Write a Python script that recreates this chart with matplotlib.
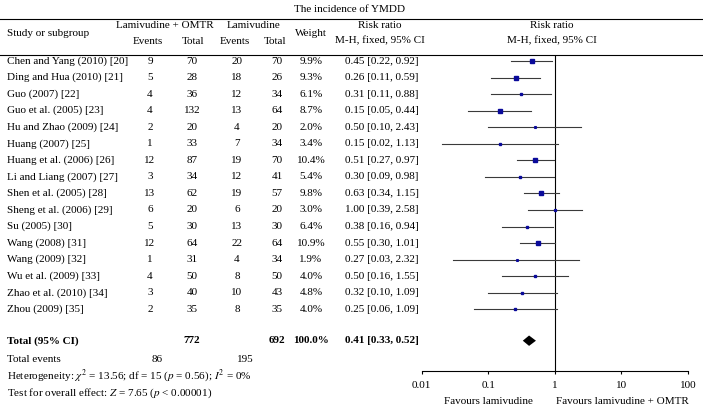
import numpy as np
import matplotlib
matplotlib.use('Agg')
import matplotlib.pyplot as plt

plt.rcParams['font.family'] = 'Liberation Serif'
plt.rcParams['mathtext.fontset'] = 'stix'

studies = ['Chen and Yang (2010) [20]', 'Ding and Hua (2010) [21]', 'Guo (2007) [22]',
           'Guo et al. (2005) [23]', 'Hu and Zhao (2009) [24]', 'Huang (2007) [25]',
           'Huang et al. (2006) [26]', 'Li and Liang (2007) [27]', 'Shen et al. (2005) [28]',
           'Sheng et al. (2006) [29]', 'Su (2005) [30]', 'Wang (2008) [31]',
           'Wang (2009) [32]', 'Wu et al. (2009) [33]', 'Zhao et al. (2010) [34]',
           'Zhou (2009) [35]']
omtr_events = [9, 5, 4, 4, 2, 1, 12, 3, 13, 6, 5, 12, 1, 4, 3, 2]
omtr_total = [70, 28, 36, 132, 20, 33, 87, 34, 62, 20, 30, 64, 31, 50, 40, 35]
lam_events = [20, 18, 12, 13, 4, 7, 19, 12, 19, 6, 13, 22, 4, 8, 10, 8]
lam_total = [70, 26, 34, 64, 20, 34, 70, 41, 57, 20, 30, 64, 34, 50, 43, 35]
weight = [9.9, 9.3, 6.1, 8.7, 2.0, 3.4, 10.4, 5.4, 9.8, 3.0, 6.4, 10.9, 1.9, 4.0, 4.8, 4.0]
rr = [0.45, 0.26, 0.31, 0.15, 0.50, 0.15, 0.51, 0.30, 0.63, 1.00, 0.38, 0.55, 0.27, 0.50, 0.32, 0.25]
rr_lo = [0.22, 0.11, 0.11, 0.05, 0.10, 0.02, 0.27, 0.09, 0.34, 0.39, 0.16, 0.30, 0.03, 0.16, 0.10, 0.06]
rr_hi = [0.92, 0.59, 0.88, 0.44, 2.43, 1.13, 0.97, 0.98, 1.15, 2.58, 0.94, 1.01, 2.32, 1.55, 1.09, 1.09]
total_omtr, total_lam = 772, 692
events_omtr, events_lam = 86, 195
pooled, pooled_lo, pooled_hi = 0.41, 0.33, 0.52

W, H = 703, 418
fig = plt.figure(figsize=(W / 100, H / 100), dpi=100)
ax = fig.add_axes([0, 0, 1, 1])
ax.set_xlim(0, W)
ax.set_ylim(H, 0)
ax.axis('off')

fs = 8
row_y = 61 + 16.55 * np.arange(len(studies))
total_y = 340.7

# header
ax.text(350, 10, 'The incidence of YMDD', ha='center', va='center', fontsize=fs)
ax.plot([0, W], [19, 19], color='black', lw=0.8)
ax.plot([0, W], [55, 55], color='black', lw=0.8)
ax.text(7, 33, 'Study or subgroup', ha='left', va='center', fontsize=fs)
ax.text(165, 26, 'Lamivudine + OMTR', ha='center', va='center', fontsize=fs)
ax.text(254, 26, 'Lamivudine', ha='center', va='center', fontsize=fs)
for x, s in [(148, 'Events'), (193, 'Total'), (235, 'Events'), (275, 'Total')]:
    ax.text(x, 41, s, ha='center', va='center', fontsize=fs)
ax.text(311, 33, 'Weight', ha='center', va='center', fontsize=fs)
ax.text(380, 26, 'Risk ratio', ha='center', va='center', fontsize=fs)
ax.text(380, 41, 'M-H, fixed, 95% CI', ha='center', va='center', fontsize=fs)
ax.text(552, 26, 'Risk ratio', ha='center', va='center', fontsize=fs)
ax.text(552, 41, 'M-H, fixed, 95% CI', ha='center', va='center', fontsize=fs)

# study rows
for i, y in enumerate(row_y):
    ax.text(7, y, studies[i], ha='left', va='center', fontsize=fs)
    ax.text(150, y, str(omtr_events[i]), ha='center', va='center', fontsize=fs)
    ax.text(192, y, str(omtr_total[i]), ha='center', va='center', fontsize=fs)
    ax.text(237, y, str(lam_events[i]), ha='center', va='center', fontsize=fs)
    ax.text(277, y, str(lam_total[i]), ha='center', va='center', fontsize=fs)
    ax.text(311, y, '{0:.1f}%'.format(weight[i]), ha='center', va='center', fontsize=fs)
    ax.text(345, y, '{0:.2f} [{1:.2f}, {2:.2f}]'.format(rr[i], rr_lo[i], rr_hi[i]),
            ha='left', va='center', fontsize=fs)

# totals
ax.text(7, total_y, 'Total (95% CI)', ha='left', va='center', fontsize=fs, fontweight='bold')
ax.text(192, total_y, str(total_omtr), ha='center', va='center', fontsize=fs, fontweight='bold')
ax.text(277, total_y, str(total_lam), ha='center', va='center', fontsize=fs, fontweight='bold')
ax.text(311, total_y, '{0:.1f}%'.format(sum(weight)), ha='center', va='center', fontsize=fs,
        fontweight='bold')
ax.text(345, total_y, '{0:.2f} [{1:.2f}, {2:.2f}]'.format(pooled, pooled_lo, pooled_hi),
        ha='left', va='center', fontsize=fs, fontweight='bold')
ax.text(7, 359, 'Total events', ha='left', va='center', fontsize=fs)
ax.text(157, 359, str(events_omtr), ha='center', va='center', fontsize=fs)
ax.text(245, 359, str(events_lam), ha='center', va='center', fontsize=fs)
ax.text(7, 375.7, r'Heterogeneity: $\chi^2$ = 13.56; df = 15 ($p$ = 0.56); $I^2$ = 0%',
        ha='left', va='center', fontsize=fs)
ax.text(7, 393, r'Test for overall effect: $Z$ = 7.65 ($p$ < 0.00001)',
        ha='left', va='center', fontsize=fs)

# forest panel
x0, x1, ytop, ybot = 421.7, 688, 55, 370.7
fx = fig.add_axes([x0 / W, (H - ybot) / H, (x1 - x0) / W, (ybot - ytop) / H])
fx.patch.set_alpha(0)
fx.set_xscale('log')
fx.set_xlim(0.01, 100)
fx.set_ylim(ybot, ytop)
for s in ['top', 'left', 'right']:
    fx.spines[s].set_visible(False)
fx.spines['bottom'].set_linewidth(0.8)
fx.set_yticks([])
fx.set_xticks([0.01, 0.1, 1, 10, 100])
fx.set_xticklabels(['0.01', '0.1', '1', '10', '100'], fontsize=fs)
fx.minorticks_off()
fx.tick_params(axis='x', direction='out', length=2.5, width=0.8, pad=5)
fx.axvline(1, color='black', lw=0.8)

for i, y in enumerate(row_y):
    fx.plot([rr_lo[i], rr_hi[i]], [y, y], color='#3a3a3a', lw=0.8)
    size = (1.3 + weight[i] * 0.2) * 0.72
    fx.plot(rr[i], y, marker='s', ms=size, color='#0a0a9a', mec='#0a0a9a', lw=0)

dh = 5.2
fx.fill([pooled_lo, pooled, pooled_hi, pooled], [total_y, total_y - dh, total_y, total_y + dh],
        color='black', lw=0)

ax.text(488.5, 401.7, 'Favours lamivudine', ha='center', va='center', fontsize=fs)
ax.text(622, 401.7, 'Favours lamivudine + OMTR', ha='center', va='center', fontsize=fs)

plt.savefig('out.png', dpi=100)
